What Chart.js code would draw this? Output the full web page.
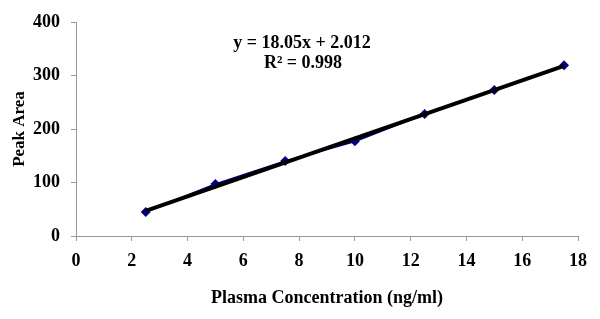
<!DOCTYPE html>
<html>
<head>
<meta charset="utf-8">
<script src="https://cdn.jsdelivr.net/npm/chart.js@4.4.0/dist/chart.umd.min.js"></script>
<style>
    html, body { margin: 0; padding: 0; background: #fff; }
    #wrap { width: 600px; height: 319px; }
</style>
</head>
<body>
<div id="wrap"><canvas id="calib"></canvas></div>
<script>
var concentrations = [2.5, 5, 7.5, 10, 12.5, 15, 17.5];
var peakAreas = [45, 97, 140, 177, 228, 273, 319];
var slope = 18.05;
var intercept = 2.012;
var equationLines = ["y = 18.05x + 2.012", "R\u00B2 = 0.998"];

var FONT = "'Liberation Serif', 'Times New Roman', serif";

var trendPoints = [
    { x: concentrations[0], y: slope * concentrations[0] + intercept },
    { x: concentrations[concentrations.length - 1], y: slope * concentrations[concentrations.length - 1] + intercept },
];

var equationPlugin = {
    id: "equation",
    afterDraw: function (chart) {
        var ctx = chart.ctx;
        ctx.save();
        ctx.fillStyle = "#000";
        ctx.font = "bold 18px " + FONT;
        ctx.textAlign = "center";
        ctx.textBaseline = "middle";
        ctx.fillText(equationLines[0], 302, 43);
        ctx.fillText(equationLines[1], 303, 63);
        ctx.restore();
    },
};

var ctx = document.getElementById("calib").getContext("2d");
var myChart = new Chart(ctx, {
    type: "scatter",
    data: {
        datasets: [
            {
                label: "Peak Area",
                data: concentrations.map(function (c, i) { return { x: c, y: peakAreas[i] }; }),
                showLine: true,
                borderColor: "#000080",
                backgroundColor: "#000080",
                borderWidth: 2,
                pointStyle: "rectRot",
                pointRadius: 5,
                pointBorderWidth: 0,
                order: 2,
            },
            {
                label: "Linear",
                data: trendPoints,
                showLine: true,
                borderColor: "#000",
                borderWidth: 4,
                pointRadius: 0,
                order: 1,
            },
        ],
    },
    options: {
        responsive: true,
        maintainAspectRatio: false,
        animation: false,
        layout: {
            padding: { top: 22, right: 22, left: 0, bottom: 0 },
        },
        plugins: {
            legend: { display: false },
            tooltip: { enabled: false },
        },
        scales: {
            x: {
                type: "linear",
                min: 0,
                max: 18,
                ticks: {
                    stepSize: 2,
                    color: "#000",
                    padding: 10,
                    font: { family: FONT, size: 18, weight: "bold" },
                },
                grid: {
                    drawOnChartArea: false,
                    drawTicks: true,
                    tickLength: 5,
                    color: "#999",
                },
                border: { color: "#999", width: 1 },
                title: {
                    display: true,
                    text: "Plasma Concentration (ng/ml)",
                    color: "#000",
                    padding: { top: 6, bottom: 10 },
                    font: { family: FONT, size: 18, weight: "bold" },
                },
                afterFit: function (scale) { scale.height = 83; },
            },
            y: {
                min: 0,
                max: 400,
                ticks: {
                    stepSize: 100,
                    color: "#000",
                    padding: 11,
                    font: { family: FONT, size: 18, weight: "bold" },
                },
                grid: {
                    drawOnChartArea: false,
                    drawTicks: true,
                    tickLength: 5,
                    color: "#999",
                },
                border: { color: "#999", width: 1 },
                title: {
                    display: true,
                    text: "Peak Area",
                    color: "#000",
                    padding: { top: 9, bottom: 2 },
                    font: { family: FONT, size: 17, weight: "bold" },
                },
                afterFit: function (scale) { scale.width = 76; },
            },
        },
    },
    plugins: [equationPlugin],
});
</script>
</body>
</html>
